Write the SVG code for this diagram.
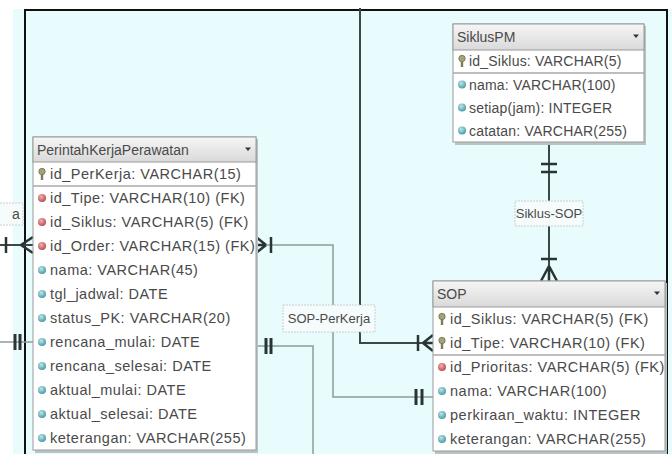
<svg xmlns="http://www.w3.org/2000/svg" xmlns:xlink="http://www.w3.org/1999/xlink" width="672" height="454" viewBox="0 0 672 454">
  <style>
    .tbl { fill: #ffffff; stroke: #9a9a9a; stroke-width: 1; }
    .shadow { fill: #b8c4c4; }
    .hdr { fill: url(#hdrGrad); stroke: #9a9a9a; stroke-width: 1; }
    .sep { stroke: #a8a8a8; stroke-width: 1.5; }
    .h { font-family: "Liberation Sans", Arial, sans-serif; font-size: 14px; fill: #4a4a4a; }
    .t { font-family: "Liberation Sans", Arial, sans-serif; font-size: 14.5px; letter-spacing: 0.5px; fill: #4a4a4a; }
    .ts { font-family: "Liberation Sans", Arial, sans-serif; font-size: 14px; letter-spacing: 0.2px; fill: #4a4a4a; }
    .lbl { font-family: "Liberation Sans", Arial, sans-serif; font-size: 13px; fill: #4a4a4a; text-anchor: middle; }
    .lblbox { fill: #f6fbfb; stroke: #c8d0d0; stroke-width: 1; stroke-dasharray: 2 1; }
    .dark { fill: none; stroke: #3c4848; stroke-width: 2; }
    .grey { fill: none; stroke: #8c9c9c; stroke-width: 1.5; }
    .mk { fill: none; stroke: #2a3434; stroke-width: 2.5; }
    .mkg { fill: none; stroke: #2a3434; stroke-width: 3; }
  </style>
  <defs>
    <linearGradient id="hdrGrad" x1="0" y1="0" x2="0" y2="1">
      <stop offset="0" stop-color="#f6f6f6"/>
      <stop offset="1" stop-color="#d9d9d9"/>
    </linearGradient>
    <radialGradient id="fkGrad" cx="0.4" cy="0.35" r="0.7">
      <stop offset="0" stop-color="#f2b0b0"/>
      <stop offset="1" stop-color="#b44848"/>
    </radialGradient>
    <radialGradient id="atGrad" cx="0.4" cy="0.35" r="0.7">
      <stop offset="0" stop-color="#bfe6ea"/>
      <stop offset="1" stop-color="#3f97a3"/>
    </radialGradient>
    <!-- primary key -->
    <g id="pk">
      <circle cx="0" cy="-2.5" r="3.2" fill="#a3a37a" stroke="#6e6e50" stroke-width="0.8"/>
      <rect x="-1.2" y="0" width="2.4" height="6" fill="#7c7c5a"/>
    </g>
    <!-- foreign key -->
    <circle id="fk" cx="0" cy="0" r="4" fill="url(#fkGrad)"/>
    <!-- plain attribute -->
    <circle id="at" cx="0" cy="0" r="4" fill="url(#atGrad)"/>
    <path id="drop" d="M-3,-1.5 L3,-1.5 L0,2 Z" fill="#333"/>
  </defs>

  <!-- canvas -->
  <rect x="0" y="0" width="672" height="454" fill="#ffffff"/>
  <rect x="13" y="9" width="659" height="445" fill="#e8fcfd"/>
  <rect x="25" y="10" width="642" height="460" fill="none" stroke="#111" stroke-width="2"/>

  <!-- connectors -->
  <g id="connectors">
    <!-- Siklus-SOP -->
    <line class="dark" x1="549" y1="142" x2="549" y2="281"/>
    <path class="mk" d="M541,164 H557 M541,172 H557"/>
    <path class="mk" d="M541,259 H557 M549,266 L541,281 M549,266 L549,281 M549,266 L557,281"/>

    <!-- SOP-PerKerja -->
    <path class="dark" d="M360,8 V343 H433"/>
    <path class="mk" d="M418,335 V351 M423,343 L433,335 M423,343 L433,343 M423,343 L433,351"/>

    <!-- PerintahKerjaPerawatan id_Order to SOP -->
    <path class="grey" d="M256,245 H333 V397 H433"/>
    <path class="mk" d="M266,245 L256,237 M266,245 L256,245 M266,245 L256,253 M271,237 V253"/>
    <path class="mkg" d="M416,389 V405 M422,389 V405"/>

    <!-- PerintahKerjaPerawatan to lower table -->
    <path class="grey" d="M256,346 H313 V454"/>
    <path class="mkg" d="M266,338 V354 M271,338 V354"/>

    <!-- relations leaving on the left -->
    <line class="dark" x1="0" y1="245" x2="33" y2="245"/>
    <path class="mk" d="M6,237 V253 M21,245 L33,237 M21,245 L33,253"/>
    <line class="grey" x1="0" y1="342" x2="33" y2="342"/>
    <path class="mkg" d="M15,334 V350 M20,334 V350"/>
  </g>

  <!-- relation labels -->
  <g id="label-siklus-sop">
    <rect class="lblbox" x="515" y="201" width="68" height="25"/>
    <text class="lbl" x="549" y="218">Siklus-SOP</text>
  </g>
  <g id="label-sop-perkerja">
    <rect class="lblbox" x="283" y="305" width="92" height="27"/>
    <text class="lbl" x="329" y="323">SOP-PerKerja</text>
  </g>
  <g id="label-left">
    <rect class="lblbox" x="-6" y="203" width="29" height="22"/>
    <text class="h" x="12" y="219">a</text>
  </g>

  <!-- SiklusPM -->
  <g id="SiklusPM">
    <rect class="shadow" x="455" y="26" width="191" height="119"/>
    <rect class="tbl" x="453" y="24" width="191" height="118"/>
    <rect class="hdr" x="453" y="24" width="191" height="26"/>
    <text class="h" x="457" y="42">SiklusPM</text>
    <use xlink:href="#drop" x="636" y="36"/>
    <line class="sep" x1="453" y1="73" x2="644" y2="73"/>
    <use xlink:href="#pk" x="462" y="61"/>
    <text class="ts" x="469" y="66">id_Siklus: VARCHAR(5)</text>
    <use xlink:href="#at" x="462" y="84.5"/>
    <text class="ts" x="469" y="89.5">nama: VARCHAR(100)</text>
    <use xlink:href="#at" x="462" y="107.5"/>
    <text class="ts" x="469" y="112.5">setiap(jam): INTEGER</text>
    <use xlink:href="#at" x="462" y="130.5"/>
    <text class="ts" x="469" y="135.5">catatan: VARCHAR(255)</text>
  </g>

  <!-- PerintahKerjaPerawatan -->
  <g id="PerintahKerjaPerawatan">
    <rect class="shadow" x="35" y="139" width="223" height="314"/>
    <rect class="tbl" x="33" y="137" width="223" height="313"/>
    <rect class="hdr" x="33" y="137" width="223" height="25"/>
    <text class="h" x="37" y="155">PerintahKerjaPerawatan</text>
    <use xlink:href="#drop" x="248" y="149"/>
    <line class="sep" x1="33" y1="186" x2="256" y2="186"/>
    <use xlink:href="#pk" x="42" y="174"/>
    <text class="t" x="50" y="179">id_PerKerja: VARCHAR(15)</text>
    <use xlink:href="#fk" x="42" y="198"/>
    <text class="t" x="50" y="203">id_Tipe: VARCHAR(10) (FK)</text>
    <use xlink:href="#fk" x="42" y="222"/>
    <text class="t" x="50" y="227">id_Siklus: VARCHAR(5) (FK)</text>
    <use xlink:href="#fk" x="42" y="246"/>
    <text class="t" x="50" y="251">id_Order: VARCHAR(15) (FK)</text>
    <use xlink:href="#at" x="42" y="270"/>
    <text class="t" x="50" y="275">nama: VARCHAR(45)</text>
    <use xlink:href="#at" x="42" y="294"/>
    <text class="t" x="50" y="299">tgl_jadwal: DATE</text>
    <use xlink:href="#at" x="42" y="318"/>
    <text class="t" x="50" y="323">status_PK: VARCHAR(20)</text>
    <use xlink:href="#at" x="42" y="342"/>
    <text class="t" x="50" y="347">rencana_mulai: DATE</text>
    <use xlink:href="#at" x="42" y="366"/>
    <text class="t" x="50" y="371">rencana_selesai: DATE</text>
    <use xlink:href="#at" x="42" y="390"/>
    <text class="t" x="50" y="395">aktual_mulai: DATE</text>
    <use xlink:href="#at" x="42" y="414"/>
    <text class="t" x="50" y="419">aktual_selesai: DATE</text>
    <use xlink:href="#at" x="42" y="438"/>
    <text class="t" x="50" y="443">keterangan: VARCHAR(255)</text>
  </g>

  <!-- SOP -->
  <g id="SOP">
    <rect class="shadow" x="435" y="283" width="232" height="171"/>
    <rect class="tbl" x="433" y="281" width="232" height="170"/>
    <rect class="hdr" x="433" y="281" width="232" height="26"/>
    <text class="h" x="437" y="299">SOP</text>
    <use xlink:href="#drop" x="657" y="293"/>
    <line class="sep" x1="433" y1="355" x2="665" y2="355"/>
    <use xlink:href="#pk" x="442" y="319"/>
    <text class="t" x="450" y="324">id_Siklus: VARCHAR(5) (FK)</text>
    <use xlink:href="#pk" x="442" y="343"/>
    <text class="t" x="450" y="348">id_Tipe: VARCHAR(10) (FK)</text>
    <use xlink:href="#fk" x="442" y="367"/>
    <text class="t" x="450" y="372">id_Prioritas: VARCHAR(5) (FK)</text>
    <use xlink:href="#at" x="442" y="391"/>
    <text class="t" x="450" y="396">nama: VARCHAR(100)</text>
    <use xlink:href="#at" x="442" y="415"/>
    <text class="t" x="450" y="420">perkiraan_waktu: INTEGER</text>
    <use xlink:href="#at" x="442" y="439"/>
    <text class="t" x="450" y="444">keterangan: VARCHAR(255)</text>
  </g>
</svg>
